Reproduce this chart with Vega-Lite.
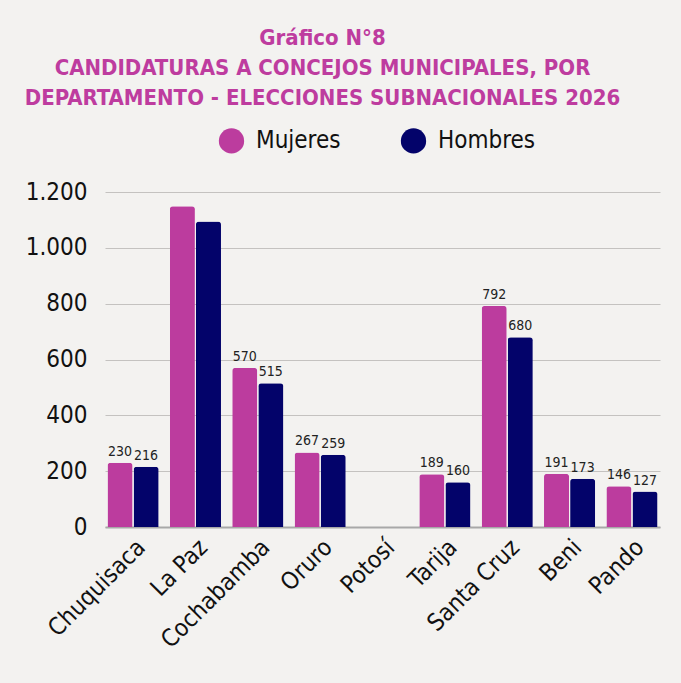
{
  "$schema": "https://vega.github.io/schema/vega-lite/v6.json",
  "width": 681,
  "height": 683,
  "autosize": {"type": "fit", "contains": "padding"},
  "padding": {"left": 25, "right": 21, "top": 27, "bottom": 30},
  "background": "#f3f2f0",
  "title": {
    "text": ["Gráfico N°8", "CANDIDATURAS A CONCEJOS MUNICIPALES, POR", "DEPARTAMENTO - ELECCIONES SUBNACIONALES 2026"],
    "font": "DejaVu Sans Condensed, Roboto",
    "fontSize": 22,
    "fontWeight": "bold",
    "color": "#BE3C9F",
    "lineHeight": 30,
    "anchor": "middle",
    "dx": -60,
    "offset": 70
  },
  "data": {
    "values": [
      {"departamento": "Chuquisaca", "sexo": "Mujeres", "valor": 230},
      {"departamento": "Chuquisaca", "sexo": "Hombres", "valor": 216},
      {"departamento": "La Paz", "sexo": "Mujeres", "valor": 1149},
      {"departamento": "La Paz", "sexo": "Hombres", "valor": 1094},
      {"departamento": "Cochabamba", "sexo": "Mujeres", "valor": 570},
      {"departamento": "Cochabamba", "sexo": "Hombres", "valor": 515},
      {"departamento": "Oruro", "sexo": "Mujeres", "valor": 267},
      {"departamento": "Oruro", "sexo": "Hombres", "valor": 259},
      {"departamento": "Potosí", "sexo": "Mujeres", "valor": 0},
      {"departamento": "Potosí", "sexo": "Hombres", "valor": 0},
      {"departamento": "Tarija", "sexo": "Mujeres", "valor": 189},
      {"departamento": "Tarija", "sexo": "Hombres", "valor": 160},
      {"departamento": "Santa Cruz", "sexo": "Mujeres", "valor": 792},
      {"departamento": "Santa Cruz", "sexo": "Hombres", "valor": 680},
      {"departamento": "Beni", "sexo": "Mujeres", "valor": 191},
      {"departamento": "Beni", "sexo": "Hombres", "valor": 173},
      {"departamento": "Pando", "sexo": "Mujeres", "valor": 146},
      {"departamento": "Pando", "sexo": "Hombres", "valor": 127}
    ]
  },
  "encoding": {
    "x": {
      "field": "departamento",
      "type": "nominal",
      "sort": null,
      "title": null,
      "scale": {"paddingInner": 0.18, "paddingOuter": 0.04},
      "axis": {
        "labelAngle": -45,
        "labelFontSize": 24,
        "labelFont": "DejaVu Sans Condensed, Roboto",
        "labelColor": "#111",
        "ticks": false,
        "labelPadding": 8,
        "domainColor": "#a8a8a8",
        "domainWidth": 2
      }
    },
    "xOffset": {"field": "sexo", "type": "nominal", "sort": ["Mujeres", "Hombres"], "scale": {"paddingInner": 0.04}},
    "y": {
      "field": "valor",
      "type": "quantitative",
      "title": null,
      "scale": {"domain": [0, 1200], "nice": false},
      "axis": {
        "values": [0, 200, 400, 600, 800, 1000, 1200],
        "format": ",d",
        "labelFontSize": 24,
        "labelFont": "DejaVu Sans Condensed, Roboto",
        "labelColor": "#111",
        "labelPadding": 18,
        "domain": false,
        "ticks": false,
        "gridColor": "#c4c2c0",
        "gridWidth": 1.2
      }
    }
  },
  "layer": [
    {
      "mark": {"type": "bar", "cornerRadiusTopLeft": 3, "cornerRadiusTopRight": 3},
      "encoding": {
        "color": {
          "field": "sexo",
          "type": "nominal",
          "sort": ["Mujeres", "Hombres"],
          "scale": {"domain": ["Mujeres", "Hombres"], "range": ["#BC3C9E", "#03036A"]},
          "legend": {
            "title": null,
            "orient": "none",
            "legendX": 113,
            "legendY": -65,
            "direction": "horizontal",
            "symbolType": "circle",
            "symbolSize": 640,
            "symbolOpacity": 1,
            "labelFontSize": 24,
            "labelFont": "DejaVu Sans Condensed, Roboto",
            "labelColor": "#111",
            "columnPadding": 59,
            "labelOffset": 11
          }
        }
      }
    },
    {
      "transform": [{"filter": "datum.departamento !== 'La Paz' && datum.valor > 0"}],
      "mark": {"type": "text", "baseline": "bottom", "dy": -4, "fontSize": 14, "font": "DejaVu Sans Condensed, Roboto", "color": "#222"},
      "encoding": {
        "text": {"field": "valor", "type": "quantitative"}
      }
    }
  ],
  "config": {
    "locale": {"number": {"decimal": ",", "thousands": ".", "grouping": [3], "currency": ["$", ""]}},
    "view": {"stroke": null}
  }
}
